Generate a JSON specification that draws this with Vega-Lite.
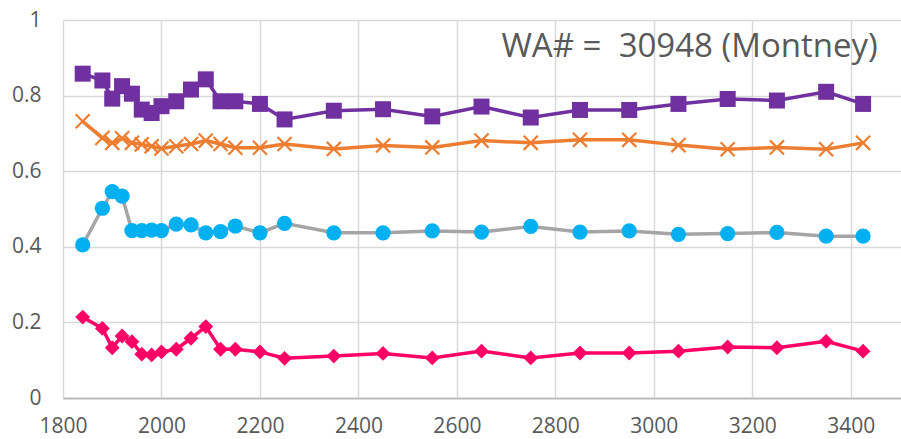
{
  "$schema": "https://vega.github.io/schema/vega-lite/v6.json",
  "width": 838,
  "height": 378,
  "autosize": {"type": "none"},
  "padding": {"left": 63, "top": 20, "right": 0, "bottom": 41},
  "background": "white",
  "config": {"view": {"stroke": null}, "font": "Open Sans"},
  "datasets": {
    "series": [
      {"depth": 1840, "s1": 0.858, "s2": 0.732, "s3": 0.405, "s4": 0.214},
      {"depth": 1880, "s1": 0.840, "s2": 0.688, "s3": 0.502, "s4": 0.184},
      {"depth": 1900, "s1": 0.792, "s2": 0.675, "s3": 0.546, "s4": 0.133},
      {"depth": 1920, "s1": 0.825, "s2": 0.687, "s3": 0.534, "s4": 0.164},
      {"depth": 1940, "s1": 0.805, "s2": 0.675, "s3": 0.443, "s4": 0.149},
      {"depth": 1960, "s1": 0.763, "s2": 0.671, "s3": 0.443, "s4": 0.116},
      {"depth": 1980, "s1": 0.754, "s2": 0.666, "s3": 0.444, "s4": 0.114},
      {"depth": 2000, "s1": 0.772, "s2": 0.660, "s3": 0.443, "s4": 0.122},
      {"depth": 2030, "s1": 0.785, "s2": 0.666, "s3": 0.460, "s4": 0.129},
      {"depth": 2060, "s1": 0.816, "s2": 0.672, "s3": 0.458, "s4": 0.158},
      {"depth": 2090, "s1": 0.843, "s2": 0.681, "s3": 0.437, "s4": 0.189},
      {"depth": 2120, "s1": 0.785, "s2": 0.672, "s3": 0.440, "s4": 0.129},
      {"depth": 2150, "s1": 0.785, "s2": 0.662, "s3": 0.455, "s4": 0.129},
      {"depth": 2200, "s1": 0.778, "s2": 0.662, "s3": 0.437, "s4": 0.122},
      {"depth": 2250, "s1": 0.737, "s2": 0.672, "s3": 0.462, "s4": 0.105},
      {"depth": 2350, "s1": 0.760, "s2": 0.659, "s3": 0.437, "s4": 0.111},
      {"depth": 2450, "s1": 0.764, "s2": 0.668, "s3": 0.437, "s4": 0.118},
      {"depth": 2550, "s1": 0.745, "s2": 0.663, "s3": 0.442, "s4": 0.106},
      {"depth": 2650, "s1": 0.771, "s2": 0.681, "s3": 0.439, "s4": 0.124},
      {"depth": 2750, "s1": 0.742, "s2": 0.675, "s3": 0.454, "s4": 0.106},
      {"depth": 2850, "s1": 0.762, "s2": 0.683, "s3": 0.439, "s4": 0.119},
      {"depth": 2950, "s1": 0.762, "s2": 0.683, "s3": 0.442, "s4": 0.119},
      {"depth": 3050, "s1": 0.778, "s2": 0.669, "s3": 0.433, "s4": 0.124},
      {"depth": 3150, "s1": 0.791, "s2": 0.658, "s3": 0.435, "s4": 0.135},
      {"depth": 3250, "s1": 0.787, "s2": 0.663, "s3": 0.438, "s4": 0.133},
      {"depth": 3350, "s1": 0.810, "s2": 0.658, "s3": 0.428, "s4": 0.150},
      {"depth": 3425, "s1": 0.778, "s2": 0.675, "s3": 0.428, "s4": 0.124}
    ],
    "label": [{"text": "WA# =\u00a0 30948 (Montney)"}]
  },
  "layer": [
    {
      "data": {"name": "series"},
      "transform": [{"fold": ["s1", "s2", "s3", "s4"], "as": ["series", "value"]}],
      "mark": {"type": "line", "strokeWidth": 3.5},
      "encoding": {
        "x": {
          "field": "depth",
          "type": "quantitative",
          "scale": {"domain": [1800, 3502], "nice": false, "zero": false},
          "axis": {
            "values": [1800, 2000, 2200, 2400, 2600, 2800, 3000, 3200, 3400],
            "format": "d",
            "title": null,
            "grid": true,
            "gridColor": "#d9d9d9",
            "gridWidth": 1.5,
            "domainColor": "#bfbfbf",
            "domainWidth": 2,
            "ticks": false,
            "tickSize": 0,
            "labelFlush": false,
            "labelOverlap": false,
            "labelFontSize": 21,
            "labelFont": "Open Sans",
            "labelColor": "#595959",
            "labelPadding": 17
          }
        },
        "y": {
          "field": "value",
          "type": "quantitative",
          "scale": {"domain": [0, 1], "nice": false},
          "axis": {
            "values": [0, 0.2, 0.4, 0.6, 0.8, 1],
            "format": "~g",
            "title": null,
            "grid": true,
            "gridColor": "#d9d9d9",
            "gridWidth": 1.5,
            "domain": false,
            "ticks": false,
            "tickSize": 0,
            "labelFlush": false,
            "labelFontSize": 21,
            "labelFont": "Open Sans",
            "labelColor": "#595959",
            "labelPadding": 22
          }
        },
        "stroke": {
          "field": "series",
          "type": "nominal",
          "scale": {"domain": ["s1", "s2", "s3", "s4"], "range": ["#7030A0", "#ED7D31", "#A5A5A5", "#FF0066"]},
          "legend": null
        },
        "detail": {"field": "series"}
      }
    },
    {
      "data": {"name": "series"},
      "transform": [{"fold": ["s1", "s2", "s3", "s4"], "as": ["series", "value"]}],
      "mark": {"type": "point", "filled": true, "opacity": 1, "strokeWidth": 0},
      "encoding": {
        "x": {"field": "depth", "type": "quantitative"},
        "y": {"field": "value", "type": "quantitative"},
        "fill": {
          "field": "series",
          "type": "nominal",
          "scale": {"domain": ["s1", "s2", "s3", "s4"], "range": ["#7030A0", "#ED7D31", "#00B0F0", "#FF0066"]},
          "legend": null
        },
        "shape": {
          "field": "series",
          "type": "nominal",
          "scale": {"domain": ["s1", "s2", "s3", "s4"], "range": ["square", "M-1,-0.8L-0.8,-1L0,-0.2L0.8,-1L1,-0.8L0.2,0L1,0.8L0.8,1L0,0.2L-0.8,1L-1,0.8L-0.2,0Z", "circle", "diamond"]},
          "legend": null
        },
        "size": {
          "field": "series",
          "type": "nominal",
          "scale": {"domain": ["s1", "s2", "s3", "s4"], "range": [256, 220, 230, 320]},
          "legend": null
        }
      }
    },
    {
      "data": {"name": "label"},
      "mark": {"type": "text", "align": "right", "baseline": "alphabetic", "fontSize": 33, "font": "Open Sans", "color": "#595959"},
      "encoding": {
        "x": {"datum": 3455, "type": "quantitative"},
        "y": {"datum": 0.902, "type": "quantitative"},
        "text": {"field": "text"}
      }
    }
  ]
}
